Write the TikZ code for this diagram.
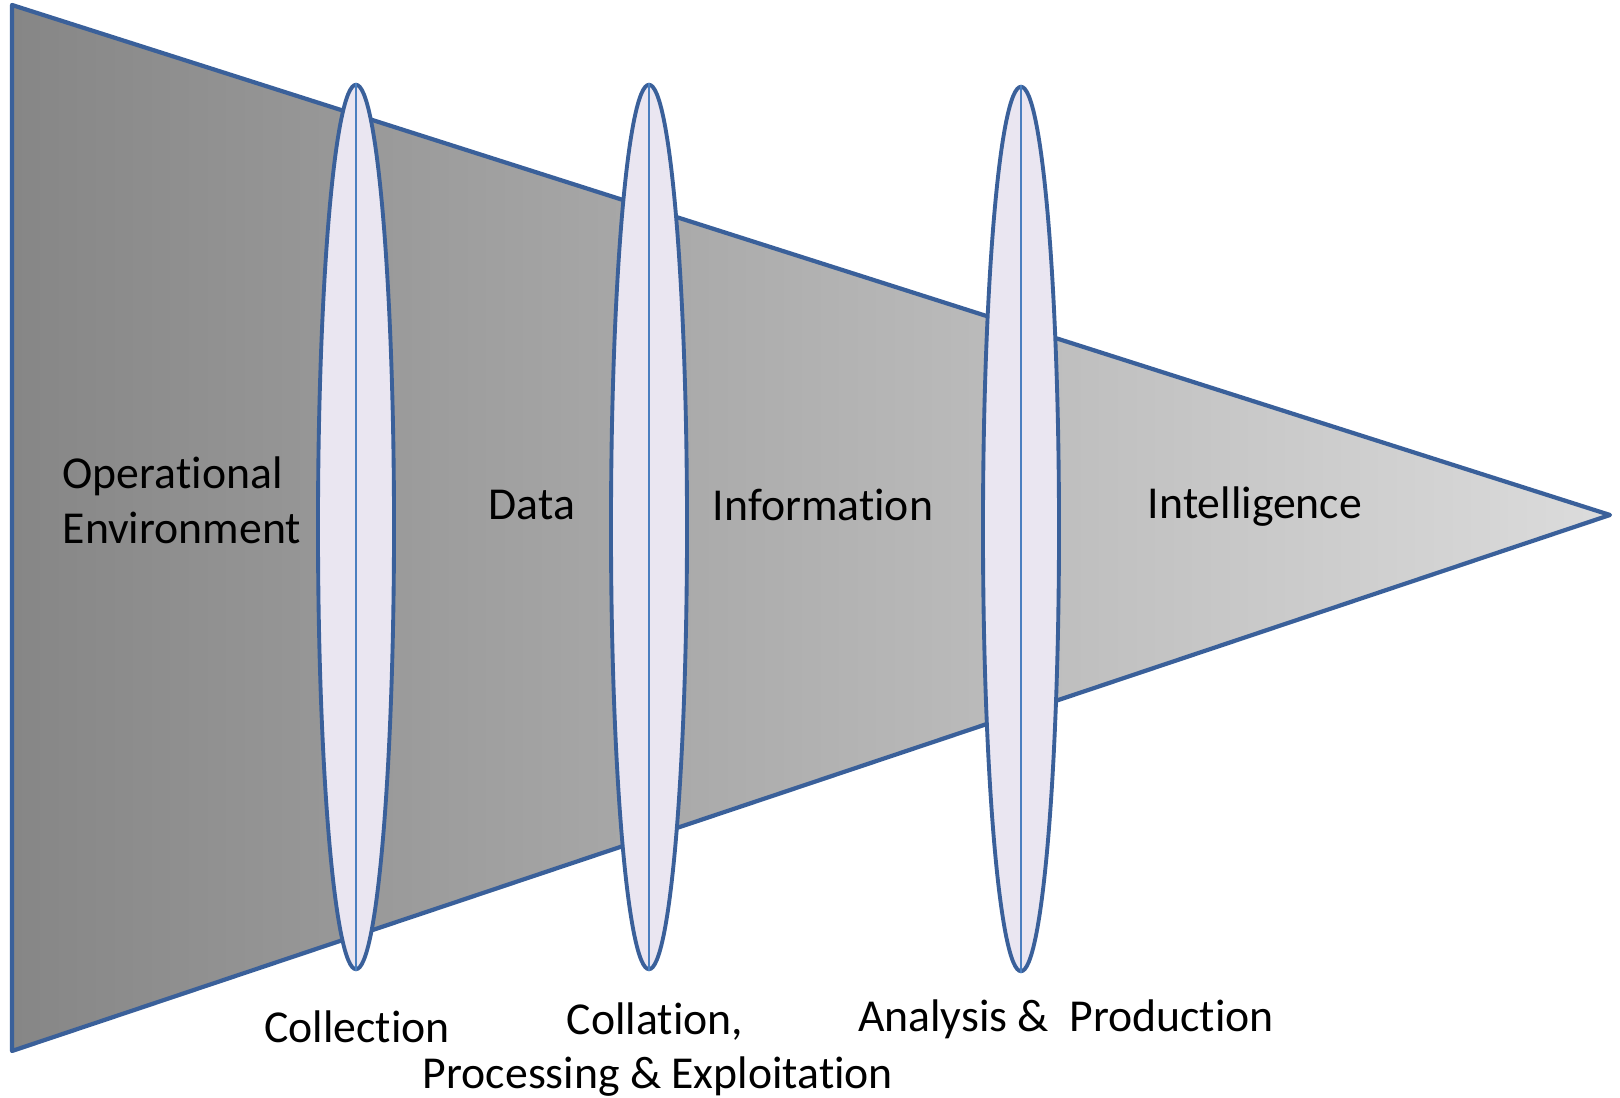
\documentclass[tikz,border=0pt]{standalone}
\usepackage{fontspec}
\setmainfont[Ligatures=NoCommon]{Carlito}
\usetikzlibrary{shapes.geometric}
\definecolor{edgeblue}{HTML}{3A609A}
\definecolor{axisblue}{HTML}{4A7FC0}
\definecolor{lensfill}{HTML}{EAE6F1}
\definecolor{darkgrey}{HTML}{868686}
\definecolor{lightgrey}{HTML}{DCDCDC}

\begin{document}
\begin{tikzpicture}[x=0.01cm, y=-0.01cm,
	lens/.style={ellipse, draw=edgeblue, line width=1.1pt, fill=lensfill, inner sep=0pt, minimum width=0.76cm, minimum height=8.84cm},
	axis/.style={draw=axisblue, line width=0.6pt},
	stage/.style={font=\fontsize{13}{15.6}\selectfont, text=black, inner sep=0pt}]
			
			\useasboundingbox (0,0) rectangle (1620,1098);
			
			%Funnel
			\shadedraw[left color=darkgrey, right color=lightgrey, draw=edgeblue, line width=1.2pt, line join=round] (12,5) -- (1610,515) -- (12,1051) -- cycle;
			
			%Lenses
			\node (collectLens) at (356,527) [lens]{};
			\node (collateLens) at (649,527) [lens]{};
			\node (analyseLens) at (1021,529) [lens]{};
			\draw[axis] (collectLens.north) -- (collectLens.south);
			\draw[axis] (collateLens.north) -- (collateLens.south);
			\draw[axis] (analyseLens.north) -- (analyseLens.south);
			
			%Stages
			\node (opEnv) at (62,500) [stage, anchor=west, align=left]{Operational\\Environment};
			\node (data) at (532,505) [stage]{Data};
			\node (info) at (823,505) [stage]{Information};
			\node (intel) at (1255,507) [stage]{Intelligence};
			
			%Steps
			\node (collection) at (357,1027) [stage]{Collection};
			\node (collation) at (655,1022) [stage]{Collation,};
			\node (processing) at (658,1077) [stage]{Processing \& Exploitation};
			\node (analysis) at (1066,1019) [stage]{Analysis \&\ \ Production};
			
\end{tikzpicture}
\end{document}
